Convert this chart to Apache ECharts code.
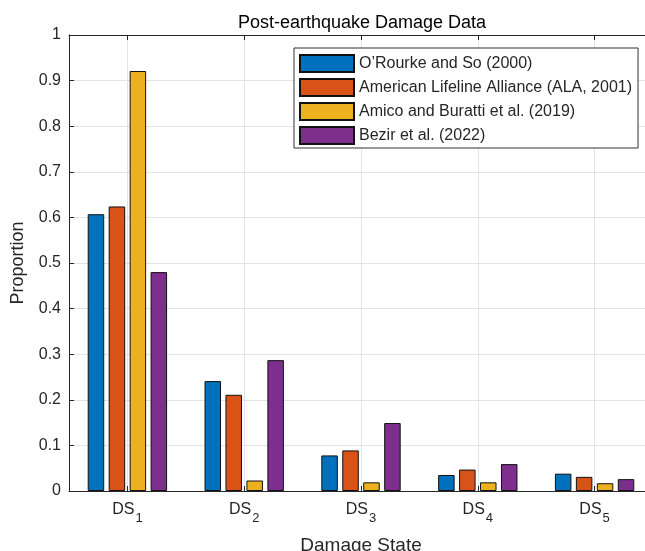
<!DOCTYPE html>
<html>
<head>
<meta charset="utf-8">
<script src="https://cdn.jsdelivr.net/npm/echarts@6/dist/echarts.min.js"></script>
<style>
html,body{margin:0;padding:0;background:#fff;}
#chart{width:645px;height:551px;}
</style>
</head>
<body>
<div id="chart"></div>
<script>
const categories = ['1', '2', '3', '4', '5'];
const seriesNames = ['O\u2019Rourke and So (2000)', 'American Lifeline Alliance (ALA, 2001)', 'Amico and Buratti et al. (2019)', 'Bezir et al. (2022)'];
const orourke = [0.607, 0.241, 0.078, 0.035, 0.038];
const ala = [0.624, 0.211, 0.089, 0.047, 0.031];
const amico = [0.921, 0.023, 0.019, 0.019, 0.017];
const bezir = [0.480, 0.287, 0.149, 0.059, 0.026];
const yTicks = [0, 0.1, 0.2, 0.3, 0.4, 0.5, 0.6, 0.7, 0.8, 0.9, 1];

const colors = ['#0072BD', '#D95319', '#EDB120', '#7E2F8E'];
const allData = [orourke, ala, amico, bezir];
const FONT = '"Liberation Sans", Arial, Helvetica, sans-serif';
const TXT = '#262626';

const chart = echarts.init(document.getElementById('chart'));
const series = allData.map((d, i) => ({
  name: seriesNames[i],
  type: 'bar',
  data: d,
  barWidth: 16.5,
  barGap: '27%',
  itemStyle: { color: colors[i], borderColor: '#111', borderWidth: 1 },
  emphasis: { disabled: true },
  animation: false
}));

chart.setOption({
  animation: false,
  textStyle: { fontFamily: FONT },
  title: {
    text: 'Post-earthquake Damage Data',
    left: 357,
    top: 9,
    textAlign: 'center',
    textStyle: { fontFamily: FONT, fontSize: 18, fontWeight: 'normal', color: '#000' }
  },
  legend: {
    orient: 'vertical',
    left: 294,
    top: 48,
    itemWidth: 54,
    itemHeight: 17,
    itemGap: 5,
    padding: [6, 6, 3, 5],
    borderColor: '#333',
    borderWidth: 1,
    backgroundColor: '#fff',
    icon: 'rect',
    textStyle: { fontFamily: FONT, fontSize: 16, color: TXT },
    data: seriesNames
  },
  grid: { left: 69, right: -8, top: 35, bottom: 60, containLabel: false, outerBoundsMode: 'none',
          show: false },
  xAxis: [{
    type: 'category',
    data: categories,
    position: 'bottom',
    axisLine: { show: true, lineStyle: { color: TXT, width: 1 } },
    axisTick: { show: true, inside: true, length: 5, alignWithLabel: true, lineStyle: { color: TXT } },
    splitLine: { show: true, alignWithLabel: true, lineStyle: { color: '#e3e3e3', width: 1 } },
    axisLabel: {
      margin: 11,
      formatter: v => '{a|DS}{b|' + v + '}',
      rich: {
        a: { fontFamily: FONT, fontSize: 16, color: TXT, lineHeight: 18, verticalAlign: 'top' },
        b: { fontFamily: FONT, fontSize: 13, color: TXT, lineHeight: 14, padding: [10, 0, 0, 1], verticalAlign: 'top' }
      }
    },
    name: 'Damage State',
    nameLocation: 'middle',
    nameGap: 45,
    nameTextStyle: { fontFamily: FONT, fontSize: 19, color: TXT }
  }, {
    type: 'category',
    data: categories,
    position: 'top',
    axisLine: { show: true, lineStyle: { color: TXT, width: 1 } },
    axisTick: { show: true, inside: true, length: 5, alignWithLabel: true, lineStyle: { color: TXT } },
    axisLabel: { show: false },
    splitLine: { show: false }
  }],
  yAxis: {
    type: 'value',
    min: 0,
    max: 1,
    interval: 0.1,
    axisLine: { show: true, lineStyle: { color: TXT, width: 1 } },
    axisTick: { show: true, inside: true, length: 5, lineStyle: { color: TXT } },
    splitLine: { show: true, lineStyle: { color: '#e3e3e3', width: 1 } },
    axisLabel: {
      margin: 8,
      fontFamily: FONT, fontSize: 16, color: TXT,
      formatter: v => {
        const t = yTicks.find(x => Math.abs(x - v) < 1e-9);
        return t === undefined ? '' : String(t);
      }
    },
    name: 'Proportion',
    nameLocation: 'middle',
    nameGap: 42,
    nameTextStyle: { fontFamily: FONT, fontSize: 18, color: TXT }
  },
  series: series
});
</script>
</body>
</html>
